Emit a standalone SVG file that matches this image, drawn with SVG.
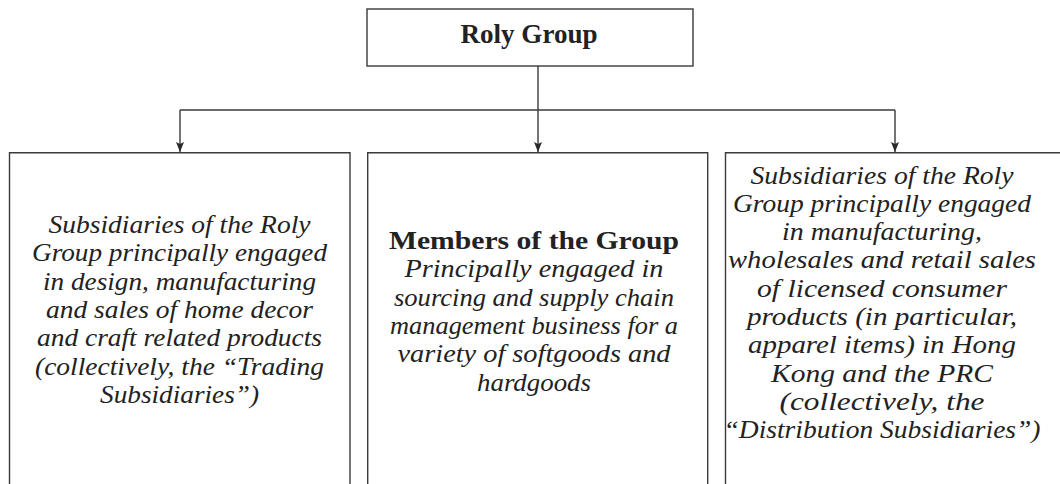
<svg xmlns="http://www.w3.org/2000/svg" width="1060" height="484" viewBox="0 0 1060 484">
<style>
.box{fill:#fff;stroke:#3a3a3a;stroke-width:1.4}
.conn{fill:none;stroke:#3a3a3a;stroke-width:1.4}
.it{font-family:"Liberation Serif","Times New Roman",serif;font-style:italic;font-size:24.5px;fill:#222;text-anchor:middle}
.bd{font-family:"Liberation Serif","Times New Roman",serif;font-weight:bold;fill:#222;text-anchor:middle}
</style>
<defs>
<marker id="arr" markerUnits="userSpaceOnUse" markerWidth="10" markerHeight="8" refX="10" refY="4" orient="auto" viewBox="0 0 10 8">
<path d="M0,0 L10,4 L0,8 L2,4 z" fill="#2a2a2a"/>
</marker>
</defs>
<rect width="1060" height="484" fill="#fff"/>
<g id="connectors">
<path class="conn" d="M538,66 V152" marker-end="url(#arr)"/>
<path class="conn" d="M180,110 H895"/>
<path class="conn" d="M180,110 V152" marker-end="url(#arr)"/>
<path class="conn" d="M895,110 V152" marker-end="url(#arr)"/>
</g>
<g id="roly-group">
<rect class="box" x="367" y="9" width="326" height="57"/>
<text class="bd" x="529" y="43" font-size="26.5" textLength="137" lengthAdjust="spacingAndGlyphs">Roly Group</text>
</g>
<g id="trading-subsidiaries">
<path class="box" d="M9.5,484 V152.7 H350 V484"/>
<text class="it" x="179.5" y="233" textLength="262" lengthAdjust="spacingAndGlyphs">Subsidiaries of the Roly</text>
<text class="it" x="179.5" y="261.3" textLength="295" lengthAdjust="spacingAndGlyphs">Group principally engaged</text>
<text class="it" x="179.5" y="289.6" textLength="273" lengthAdjust="spacingAndGlyphs">in design, manufacturing</text>
<text class="it" x="179.5" y="317.9" textLength="267" lengthAdjust="spacingAndGlyphs">and sales of home decor</text>
<text class="it" x="179.5" y="346.2" textLength="285" lengthAdjust="spacingAndGlyphs">and craft related products</text>
<text class="it" x="179.5" y="374.5" textLength="289" lengthAdjust="spacingAndGlyphs">(collectively, the “Trading</text>
<text class="it" x="179.5" y="402.8" textLength="159" lengthAdjust="spacingAndGlyphs">Subsidiaries”)</text>
</g>
<g id="members-of-the-group">
<path class="box" d="M367.7,484 V152.7 H707.7 V484"/>
<text class="bd" x="534" y="249" font-size="25" textLength="290" lengthAdjust="spacingAndGlyphs">Members of the Group</text>
<text class="it" x="534" y="277.3" textLength="259" lengthAdjust="spacingAndGlyphs">Principally engaged in</text>
<text class="it" x="534" y="305.6" textLength="280" lengthAdjust="spacingAndGlyphs">sourcing and supply chain</text>
<text class="it" x="534" y="333.9" textLength="288" lengthAdjust="spacingAndGlyphs">management business for a</text>
<text class="it" x="534" y="362.2" textLength="273" lengthAdjust="spacingAndGlyphs">variety of softgoods and</text>
<text class="it" x="534" y="390.5" textLength="114" lengthAdjust="spacingAndGlyphs">hardgoods</text>
</g>
<g id="distribution-subsidiaries">
<path class="box" d="M725.5,484 V152.7 H1060"/>
<text class="it" x="882" y="183.5" textLength="263" lengthAdjust="spacingAndGlyphs">Subsidiaries of the Roly</text>
<text class="it" x="882" y="211.8" textLength="298" lengthAdjust="spacingAndGlyphs">Group principally engaged</text>
<text class="it" x="882" y="240.1" textLength="200" lengthAdjust="spacingAndGlyphs">in manufacturing,</text>
<text class="it" x="882" y="268.4" textLength="308" lengthAdjust="spacingAndGlyphs">wholesales and retail sales</text>
<text class="it" x="882" y="296.7" textLength="250" lengthAdjust="spacingAndGlyphs">of licensed consumer</text>
<text class="it" x="882" y="325" textLength="270" lengthAdjust="spacingAndGlyphs">products (in particular,</text>
<text class="it" x="882" y="353.3" textLength="268" lengthAdjust="spacingAndGlyphs">apparel items) in Hong</text>
<text class="it" x="882" y="381.6" textLength="222" lengthAdjust="spacingAndGlyphs">Kong and the PRC</text>
<text class="it" x="882" y="409.9" textLength="205" lengthAdjust="spacingAndGlyphs">(collectively, the</text>
<text class="it" x="882" y="438.2" textLength="317" lengthAdjust="spacingAndGlyphs">“Distribution Subsidiaries”)</text>
</g>
</svg>
